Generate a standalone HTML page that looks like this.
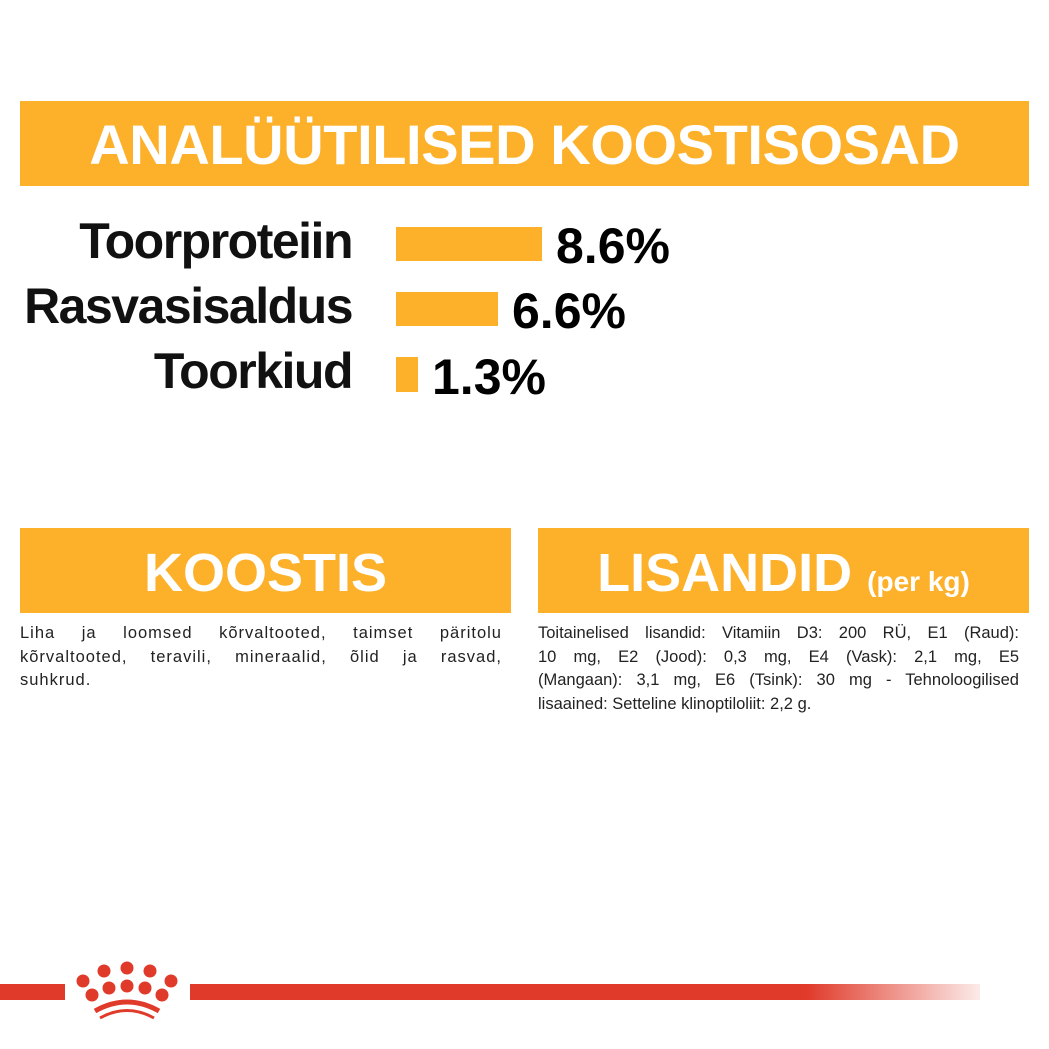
<!DOCTYPE html>
<html><head><style>
body{margin:0;width:1049px;height:1049px;background:#fff;position:relative;overflow:hidden;font-family:"Liberation Sans",sans-serif}
.box{position:absolute;background:#FDB12B;color:#fff;font-weight:bold;text-align:center}
.lab{position:absolute;right:697px;font-weight:bold;font-size:50px;color:#111;letter-spacing:-1.5px;white-space:nowrap}
.bar{position:absolute;left:396px;background:#FDB12B}
.val{position:absolute;font-weight:bold;font-size:50px;color:#000;white-space:nowrap}
.txt{position:absolute;font-size:16.5px;line-height:23.5px;color:#222}
.txt div{text-align:justify;text-align-last:justify;white-space:nowrap}
.txt div.l{text-align-last:left}
</style></head><body>
<div class="box" style="left:20px;top:101px;width:1009px;height:85px;font-size:56px;line-height:88px;letter-spacing:-0.4px">ANALÜÜTILISED KOOSTISOSAD</div>
<div class="lab" style="top:212px">Toorproteiin</div>
<div class="lab" style="top:277px">Rasvasisaldus</div>
<div class="lab" style="top:342px">Toorkiud</div>
<div class="bar" style="top:227px;width:146px;height:34px"></div>
<div class="bar" style="top:292px;width:102px;height:34px"></div>
<div class="bar" style="top:357px;width:22px;height:35px"></div>
<div class="val" style="left:556px;top:217px">8.6%</div>
<div class="val" style="left:512px;top:282px">6.6%</div>
<div class="val" style="left:432px;top:348px">1.3%</div>
<div class="box" style="left:20px;top:528px;width:491px;height:85px;font-size:54px;line-height:90px">KOOSTIS</div>
<div class="box" style="left:538px;top:528px;width:491px;height:85px;font-size:54px;line-height:90px">LISANDID <span style="font-size:28px">(per kg)</span></div>
<div class="txt" style="left:20px;top:622px;width:482px;letter-spacing:1px">
<div>Liha ja loomsed kõrvaltooted, taimset päritolu</div>
<div>kõrvaltooted, teravili, mineraalid, õlid ja rasvad,</div>
<div class="l">suhkrud.</div></div>
<div class="txt" style="left:538px;top:622px;width:481px">
<div>Toitainelised lisandid: Vitamiin D3: 200 RÜ, E1 (Raud):</div>
<div>10 mg, E2 (Jood): 0,3 mg, E4 (Vask): 2,1 mg, E5</div>
<div>(Mangaan): 3,1 mg, E6 (Tsink): 30 mg - Tehnoloogilised</div>
<div class="l">lisaained: Setteline klinoptiloliit: 2,2 g.</div></div>
<div style="position:absolute;left:0;top:984px;width:65px;height:16px;background:#E03A2A"></div>
<div style="position:absolute;left:190px;top:984px;width:790px;height:16px;background:linear-gradient(to right,#E03A2A 0%,#E03A2A 78%,rgba(224,58,42,0.1) 100%)"></div>
<svg style="position:absolute;left:70px;top:955px" width="115" height="65" viewBox="0 0 115 65">
<g fill="#E03A2A">
<circle cx="13" cy="26" r="6.5"/><circle cx="34" cy="16" r="6.5"/><circle cx="57" cy="13" r="6.5"/><circle cx="80" cy="16" r="6.5"/><circle cx="101" cy="26" r="6.5"/>
<circle cx="22" cy="40" r="6.5"/><circle cx="39" cy="33" r="6.5"/><circle cx="57" cy="31" r="6.5"/><circle cx="75" cy="33" r="6.5"/><circle cx="92" cy="40" r="6.5"/>
</g>
<path d="M25 56 Q57 38 89 56" stroke="#E03A2A" stroke-width="5" fill="none"/>
<path d="M30 63 Q57 48 84 63" stroke="#E03A2A" stroke-width="3" fill="none"/>
</svg>
</body></html>
